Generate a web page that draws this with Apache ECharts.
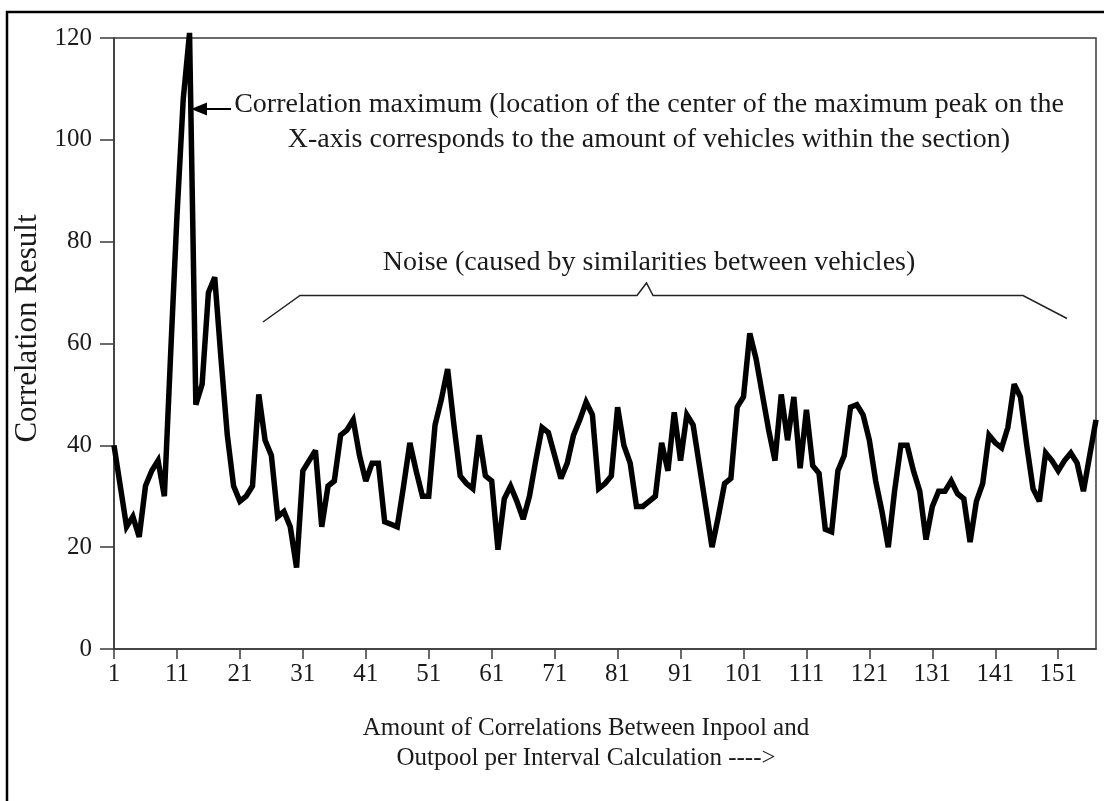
<!DOCTYPE html>
<html>
<head>
<meta charset="utf-8">
<script src="https://cdn.jsdelivr.net/npm/echarts@6/dist/echarts.min.js"></script>
<style>
html,body{margin:0;padding:0;background:#fff;}
#chart{width:1104px;height:801px;}
</style>
</head>
<body>
<div id="chart"></div>
<script>
// ---- data ----
const firstCategory = 1;
const categoryCount = 157;
const categories = [];
for (let i = 0; i < categoryCount; i++) categories.push(String(firstCategory + i));

const correlationResult = [
  40, 32, 24, 26, 22, 32, 35, 37, 30, 58,
  85, 108, 121, 48, 52, 70, 73, 57, 42, 32,
  29, 30, 32, 50, 41, 38, 26, 27, 24, 16,
  35, 37, 39, 24, 32, 33, 42, 43, 45, 38,
  33, 36.5, 36.5, 25, 24.5, 24, 32, 40.5, 35, 30,
  30, 44, 49, 55, 44, 34, 32.5, 31.5, 42, 34,
  33, 19.5, 29.5, 32, 29, 25.5, 30, 37, 43.5, 42.5,
  38, 33.5, 36.5, 42, 45, 48.5, 46, 31.5, 32.5, 34,
  47.5, 40, 36.5, 28, 28, 29, 30, 40.5, 35, 46.5,
  37, 46, 44, 36, 28, 20, 26, 32.5, 33.5, 47.5,
  49.5, 62, 57, 50, 43, 37, 50, 41, 49.5, 35.5,
  47, 36, 34.5, 23.5, 23, 35, 38, 47.5, 48, 46,
  41, 33, 27, 20, 31, 40, 40, 35, 31, 21.5,
  28, 31, 31, 33, 30.5, 29.5, 21, 29, 32.5, 42,
  40.5, 39.5, 43.5, 52, 49.5, 40, 31.5, 29, 38.5, 37,
  35, 37, 38.5, 36.5, 31, 38, 45
];

const yMin = 0, yMax = 120, yStep = 20;

const yAxisTitle = 'Correlation Result';
const xAxisTitle = 'Amount of Correlations Between Inpool and\nOutpool per Interval Calculation ---->';
const peakNoteLine1 = 'Correlation maximum (location of the center of the maximum peak on the';
const peakNoteLine2 = 'X-axis corresponds to the amount of vehicles within the section)';
const noiseNote = 'Noise (caused by similarities between vehicles)';

// ---- chart ----
const FONT = '"Liberation Serif", "Times New Roman", serif';
const chart = echarts.init(document.getElementById('chart'), null, {renderer: 'canvas'});

chart.setOption({
  animation: false,
  backgroundColor: '#ffffff',
  grid: {
    left: 114, right: 8, top: 38, bottom: 152,
    outerBoundsMode: 'none',
    containLabel: false,
    show: true, borderColor: '#3a3a3a', borderWidth: 1.5, backgroundColor: 'transparent'
  },
  xAxis: {
    type: 'category',
    data: categories,
    boundaryGap: false,
    axisLine: {lineStyle: {color: '#3a3a3a', width: 1.5}},
    axisTick: {show: true, interval: 9, length: 10, lineStyle: {color: '#3a3a3a', width: 1.5}},
    axisLabel: {interval: 9, margin: 13, fontFamily: FONT, fontSize: 25, color: '#1a1a1a'},
    splitLine: {show: false},
    name: xAxisTitle,
    nameLocation: 'middle',
    nameGap: 64,
    nameTextStyle: {fontFamily: FONT, fontSize: 25, lineHeight: 30, color: '#1a1a1a', padding: [0, 38, 0, 0]}
  },
  yAxis: {
    type: 'value',
    min: yMin, max: yMax, interval: yStep,
    axisLine: {show: true, lineStyle: {color: '#3a3a3a', width: 1.5}},
    axisTick: {show: true, length: 14, lineStyle: {color: '#3a3a3a', width: 1.5}},
    axisLabel: {margin: 22, fontFamily: FONT, fontSize: 25, color: '#1a1a1a'},
    splitLine: {show: false},
    name: yAxisTitle,
    nameLocation: 'middle',
    nameGap: 62,
    nameTextStyle: {fontFamily: FONT, fontSize: 31, color: '#1a1a1a', padding: [0, 0, 0, 30]}
  },
  series: [{
    type: 'line',
    data: correlationResult,
    showSymbol: false,
    symbol: 'none',
    clip: false,
    lineStyle: {color: '#000000', width: 5.5, join: 'miter', miterLimit: 3}
  }],
  graphic: [
    // outer frame
    {type: 'polyline', silent: true, shape: {points: [[7, 801], [7, 12], [1104, 12]]},
     style: {stroke: '#000', lineWidth: 2.5, fill: null}},
    // arrow for the peak note
    {type: 'line', silent: true, shape: {x1: 205, y1: 109, x2: 231, y2: 109},
     style: {stroke: '#000', lineWidth: 2}},
    {type: 'polygon', silent: true, shape: {points: [[191, 109], [207, 102.5], [207, 115.5]]},
     style: {fill: '#000'}},
    {type: 'text', silent: true, x: 649, y: 105,
     style: {text: peakNoteLine1, font: '28px ' + FONT, fill: '#1a1a1a', align: 'center', verticalAlign: 'middle'}},
    {type: 'text', silent: true, x: 649, y: 140,
     style: {text: peakNoteLine2, font: '28px ' + FONT, fill: '#1a1a1a', align: 'center', verticalAlign: 'middle'}},
    // noise bracket
    {type: 'text', silent: true, x: 649, y: 263,
     style: {text: noiseNote, font: '28px ' + FONT, fill: '#1a1a1a', align: 'center', verticalAlign: 'middle'}},
    {type: 'polyline', silent: true,
     shape: {points: [[263, 322], [300, 295.5], [637, 295.5], [646.5, 283], [653, 295.5], [1023, 295.5], [1067, 318.5]]},
     style: {stroke: '#222', lineWidth: 1.5, fill: null}}
  ]
});
</script>
</body>
</html>
